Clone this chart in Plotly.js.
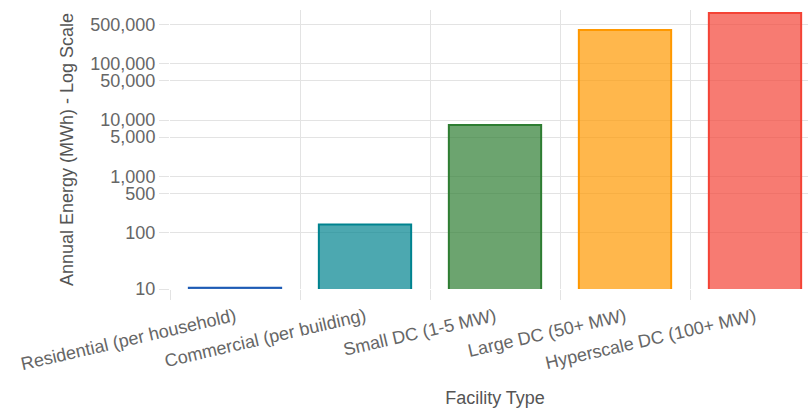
<!DOCTYPE html>
<html>
<head>
<meta charset="utf-8">
<script src="https://cdn.plot.ly/plotly-3.0.1.min.js"></script>
<style>
html, body { margin: 0; padding: 0; overflow: hidden; background: #fff; }
#chart { width: 830px; height: 408px; }
</style>
</head>
<body>
<div id="chart"></div>
<script>
const categories = [
  "Residential (per household)",
  "Commercial (per building)",
  "Small DC (1-5 MW)",
  "Large DC (50+ MW)",
  "Hyperscale DC (100+ MW)"
];
const annualEnergyMWh = [10.5, 140, 8200, 400000, 800000];
const lineColors = ["#1e5bb5", "#00838f", "#2e7d32", "#ff9800", "#f44336"];
const fillColors = [
  "rgba(30,91,181,0.7)",
  "rgba(0,131,143,0.7)",
  "rgba(46,125,50,0.7)",
  "rgba(255,152,0,0.7)",
  "rgba(244,67,54,0.7)"
];
const yTickVals = [10, 100, 500, 1000, 5000, 10000, 50000, 100000, 500000];
const yTickText = ["10", "100", "500", "1,000", "5,000", "10,000", "50,000", "100,000", "500,000"];

const trace = {
  type: "bar",
  x: categories,
  y: annualEnergyMWh,
  marker: {
    color: fillColors,
    line: { color: lineColors, width: 2 }
  },
  hoverinfo: "x+y"
};

const fontFamily = "'Liberation Sans', Arial, sans-serif";

const layout = {
  width: 830,
  height: 408,
  margin: { l: 170, r: 10, t: 10, b: 119 },
  paper_bgcolor: "#ffffff",
  plot_bgcolor: "#ffffff",
  font: { family: fontFamily, size: 18, color: "#666" },
  showlegend: false,
  bargap: 0.29,
  xaxis: {
    type: "category",
    tickson: "boundaries",
    ticks: "outside",
    ticklen: 10,
    tickcolor: "#e3e3e3",
    showgrid: true,
    gridcolor: "#e3e3e3",
    gridwidth: 1,
    showline: false,
    zeroline: false,
    tickangle: -13,
    ticklabelstandoff: 13,
    tickfont: { family: fontFamily, size: 18, color: "#666" },
    title: { text: "Facility Type", standoff: 25, font: { family: fontFamily, size: 18, color: "#555" } }
  },
  yaxis: {
    type: "log",
    range: [1, 5.956],
    tickvals: yTickVals,
    ticktext: yTickText,
    ticks: "outside",
    ticklen: 10,
    tickcolor: "#e3e3e3",
    showgrid: true,
    gridcolor: "#e3e3e3",
    gridwidth: 1,
    showline: false,
    zeroline: false,
    tickfont: { family: fontFamily, size: 18, color: "#666" },
    title: { text: "Annual Energy (MWh) - Log Scale", standoff: 12, font: { family: fontFamily, size: 18, color: "#555" } }
  }
};

Plotly.newPlot("chart", [trace], layout, { displayModeBar: false });
</script>
</body>
</html>
